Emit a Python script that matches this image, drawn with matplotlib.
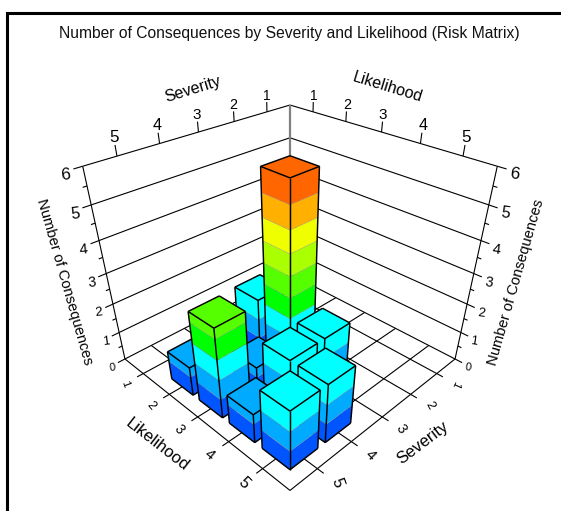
import matplotlib
matplotlib.use("Agg")
import matplotlib.pyplot as plt
from matplotlib.patches import Polygon

# ---- data ----
likelihood = [2, 2, 3, 3, 3, 4, 4, 4, 5, 5]
severity = [5, 3, 3, 4, 5, 3, 4, 5, 4, 5]
counts = [1, 2, 6, 1, 3, 2, 2, 1, 2, 2]
tick_values = [1, 2, 3, 4, 5]
z_ticks = [0, 1, 2, 3, 4, 5, 6]
level_step = 2 / 3
level_colors = ["#0055FF", "#00AAFF", "#00FFFF", "#00FF00", "#55FF00",
                "#AAFF00", "#F0FF00", "#FFB000", "#FF6600"]
title = "Number of Consequences by Severity and Likelihood (Risk Matrix)"

plt.rcParams["font.family"] = ["Liberation Sans", "DejaVu Sans"]
fig = plt.figure(figsize=(5.61, 5.11), dpi=100)
ax = fig.add_axes([0, 0, 1, 1])
ax.set_xlim(0, 561)
ax.set_ylim(511, 0)
ax.axis("off")

# ---- perspective camera ----
ORIGIN = (290.0, 274.0)
VU = (-479.0, -122.0)
VV = (1059.0, -122.0)
VZ = (290.0, 1112.0)
AU, AV, AZ = -0.1767, -0.1767, -0.1678
U0, U_STEP = 0.137, 0.182
Z_MAX = 6.0
HALF = 0.071
LEFT_ROT = [-70, -50, -50, -40, -45]
RIGHT_ROT = [-115, -60, -55, -45, -70]


def tick_pos(k):
    return U0 + U_STEP * (k - 1)


def project(u, v, z):
    zn = z / Z_MAX
    w = 1 + AU * u + AV * v + AZ * zn
    x = ORIGIN[0] + AU * u * VU[0] + AV * v * VV[0] + AZ * zn * VZ[0]
    y = ORIGIN[1] + AU * u * VU[1] + AV * v * VV[1] + AZ * zn * VZ[1]
    return x / w, y / w


def line(p, q, color="black", lw=0.8, z=1):
    (x0, y0), (x1, y1) = project(*p), project(*q)
    ax.plot([x0, x1], [y0, y1], color=color, lw=lw, zorder=z,
            solid_capstyle="butt")


# ---- frame ----
ax.plot([7.5, 7.5, 561], [511, 13.5, 13.5], color="black", lw=2.2, zorder=20,
        solid_joinstyle="miter")
ax.text(289.5, 33.5, title, ha="center", va="center", fontsize=11.25, color="#111111")

# ---- walls ----
for k in z_ticks:
    line((0, 1, k), (0, 0, k))
    line((0, 0, k), (1, 0, k))
    line((0, 1, k), (0, 1.035, k))
    line((1, 0, k), (1.035, 0, k))
for k in z_ticks[:-1]:
    line((0, 1, k + 0.5), (0, 1.017, k + 0.5))
    line((1, 0, k + 0.5), (1.017, 0, k + 0.5))
line((0, 1, 0), (0, 1, Z_MAX))
line((1, 0, 0), (1, 0, Z_MAX))
line((0, 0, 0), (0, 0, Z_MAX), color="#808080", lw=1.6)

# ---- floor ----
line((0, 1, 0), (1, 1, 0))
line((1, 0, 0), (1, 1, 0))
for k in tick_values:
    t = tick_pos(k)
    line((t, 0, 0), (t, 1.03, 0))
    line((0, t, 0), (1.03, t, 0))
    line((t, 0, Z_MAX), (t, 0, Z_MAX + 0.28))
    line((0, t, Z_MAX), (0, t, Z_MAX + 0.28))

# ---- tick labels ----
for k in z_ticks:
    size = 8.0 + 0.72 * k
    ax.text(*project(0, 1.066, k - 0.08), str(k), ha="center", va="center",
            fontsize=size, rotation=6)
    ax.text(*project(1.066, 0, k - 0.08), str(k), ha="center", va="center",
            fontsize=size, rotation=-8)
for i, k in enumerate(tick_values):
    t = tick_pos(k)
    size = 9.8 + 0.6 * i
    ax.text(*project(t, 0, Z_MAX + 0.46), str(k), ha="center", va="center",
            fontsize=size)
    ax.text(*project(0, t, Z_MAX + 0.46), str(k), ha="center", va="center",
            fontsize=size)
    fl = 8.0 + 0.9 * i
    ax.text(*project(t, 1.09, 0), str(k), ha="center", va="center",
            fontsize=fl, rotation=LEFT_ROT[i])
    ax.text(*project(1.09, t, 0), str(k), ha="center", va="center",
            fontsize=fl, rotation=RIGHT_ROT[i])

# ---- axis titles ----
ax.text(193, 89, "Severity", rotation=17, ha="center", va="center", fontsize=11.5)
ax.text(388, 87, "Likelihood", rotation=-17, ha="center", va="center", fontsize=11.5)
ax.text(64, 282, "Number of Consequences", rotation=-74, ha="center", va="center",
        fontsize=10.6)
ax.text(516, 282, "Number of Consequences", rotation=74, ha="center", va="center",
        fontsize=10.6)
ax.text(157, 445, "Likelihood", rotation=-38, ha="center", va="center", fontsize=12)
ax.text(423, 443, "Severity", rotation=37, ha="center", va="center", fontsize=12)


# ---- bars ----
def face(points, color, order, edge="#888888", lw=0.2):
    ax.add_patch(Polygon([project(*p) for p in points], closed=True, facecolor=color,
                         edgecolor=edge, linewidth=lw, zorder=order, joinstyle="round"))


bars = sorted(zip(likelihood, severity, counts),
              key=lambda b: tick_pos(b[0]) + tick_pos(b[1]))
order = 3.0
for lik, sev, cnt in bars:
    u0, v0 = tick_pos(lik), tick_pos(sev)
    ua, ub, va, vb = u0 - HALF, u0 + HALF, v0 - HALF, v0 + HALF
    n = 0
    low = 0.0
    while low < cnt - 1e-9:
        high = min(low + level_step, cnt)
        c = level_colors[n]
        face([(ub, va, low), (ub, vb, low), (ub, vb, high), (ub, va, high)], c, order)
        face([(ua, vb, low), (ub, vb, low), (ub, vb, high), (ua, vb, high)], c, order)
        low = high
        n += 1
    face([(ua, va, cnt), (ub, va, cnt), (ub, vb, cnt), (ua, vb, cnt)], c, order)
    order += 0.01
    segs = [((ub, va, 0), (ub, vb, 0)), ((ua, vb, 0), (ub, vb, 0)),
            ((ub, va, 0), (ub, va, cnt)), ((ua, vb, 0), (ua, vb, cnt)),
            ((ub, vb, 0), (ub, vb, cnt)),
            ((ua, va, cnt), (ub, va, cnt)), ((ub, va, cnt), (ub, vb, cnt)),
            ((ub, vb, cnt), (ua, vb, cnt)), ((ua, vb, cnt), (ua, va, cnt))]
    for p, q in segs:
        line(p, q, lw=1.05, z=order)
    order += 0.01

fig.savefig("out.png", dpi=100)
